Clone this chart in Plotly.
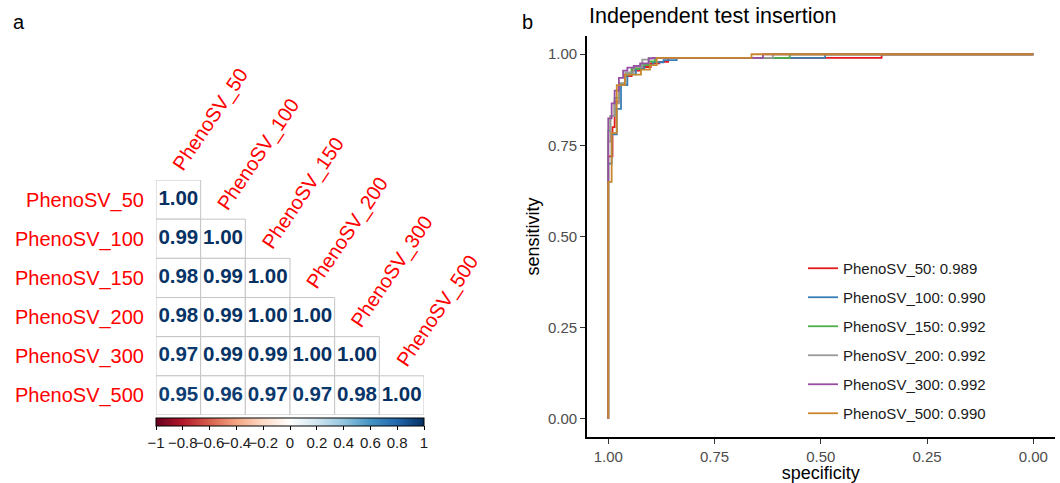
import plotly.graph_objects as go
from plotly.colors import sample_colorscale

# ---------------- data ----------------
models = ["PhenoSV_50", "PhenoSV_100", "PhenoSV_150", "PhenoSV_200", "PhenoSV_300", "PhenoSV_500"]

# lower-triangle correlation rows (row i has i+1 values)
corr_rows = [
    [1.00],
    [0.99, 1.00],
    [0.98, 0.99, 1.00],
    [0.98, 0.99, 1.00, 1.00],
    [0.97, 0.99, 0.99, 1.00, 1.00],
    [0.95, 0.96, 0.97, 0.97, 0.98, 1.00],
]

colorbar_ticks = [-1, -0.8, -0.6, -0.4, -0.2, 0, 0.2, 0.4, 0.6, 0.8, 1]

auc = [0.989, 0.990, 0.992, 0.992, 0.992, 0.990]

# ROC step points (specificity, sensitivity)
spec_50 = [1.0, 0.990, 0.985, 0.975, 0.960, 0.945, 0.925, 0.900, 0.880, 0.859, 0.357, 0.0]
sens_50 = [0.0, 0.72, 0.80, 0.87, 0.915, 0.94, 0.955, 0.965, 0.975, 0.979, 0.990, 1.0]
spec_100 = [1.0, 0.992, 0.980, 0.970, 0.955, 0.935, 0.915, 0.895, 0.870, 0.839, 0.490, 0.0]
sens_100 = [0.0, 0.70, 0.78, 0.85, 0.915, 0.945, 0.96, 0.97, 0.978, 0.984, 0.990, 1.0]
spec_150 = [1.0, 0.995, 0.985, 0.975, 0.960, 0.945, 0.925, 0.905, 0.890, 0.573, 0.0]
sens_150 = [0.0, 0.79, 0.83, 0.88, 0.92, 0.945, 0.96, 0.97, 0.98, 0.990, 1.0]
spec_200 = [1.0, 0.995, 0.985, 0.975, 0.960, 0.940, 0.920, 0.905, 0.613, 0.0]
sens_200 = [0.0, 0.76, 0.83, 0.865, 0.92, 0.95, 0.965, 0.985, 0.990, 1.0]
spec_300 = [1.0, 0.992, 0.985, 0.975, 0.965, 0.955, 0.940, 0.925, 0.905, 0.895, 0.636, 0.0]
sens_300 = [0.0, 0.824, 0.865, 0.90, 0.935, 0.955, 0.963, 0.968, 0.975, 0.988, 0.990, 1.0]
spec_500 = [1.0, 0.992, 0.980, 0.961, 0.923, 0.902, 0.886, 0.663, 0.0]
sens_500 = [0.0, 0.650, 0.784, 0.915, 0.944, 0.958, 0.970, 0.990, 1.0]

roc_spec = [spec_50, spec_100, spec_150, spec_200, spec_300, spec_500]
roc_sens = [sens_50, sens_100, sens_150, sens_200, sens_300, sens_500]
roc_colors = ["#E41A1C", "#377EB8", "#4DAF4A", "#999999", "#984EA3", "#C8872F"]

# corrplot default RdBu palette
rdbu = ["#67001F", "#B2182B", "#D6604D", "#F4A582", "#FDDBC7", "#FFFFFF",
        "#D1E5F0", "#92C5DE", "#4393C3", "#2166AC", "#053061"]
colorscale = [[i / (len(rdbu) - 1), c] for i, c in enumerate(rdbu)]

FONT = "Liberation Sans, Arial, Helvetica, sans-serif"
W, H = 1060, 483

fig = go.Figure()

# ---------------- panel a: correlation matrix ----------------
cx, cy, cv = [], [], []
for r, row in enumerate(corr_rows):
    for c, v in enumerate(row):
        cx.append(c + 1)
        cy.append(r + 1)
        cv.append(v)
text_colors = sample_colorscale(colorscale, [(v + 1) / 2 for v in cv])

for r, row in enumerate(corr_rows):
    for c, _ in enumerate(row):
        fig.add_shape(type="rect", xref="x", yref="y",
                      x0=c + 0.5, x1=c + 1.5, y0=r + 0.5, y1=r + 1.5,
                      line=dict(color="#C4C4C4", width=1), fillcolor="white", layer="below")

fig.add_trace(go.Scatter(
    x=cx, y=cy, mode="markers+text", xaxis="x", yaxis="y",
    text=[f"{v:.2f}" for v in cv],
    textposition="middle center",
    textfont=dict(family=FONT, size=20.5, color=text_colors, weight="bold"),
    marker=dict(color=cv, colorscale=colorscale, cmin=-1, cmax=1, opacity=0, size=1,
                showscale=True,
                colorbar=dict(orientation="h", x=290 / W, xanchor="center",
                              y=1 - 418 / H, yanchor="top",
                              len=268, lenmode="pixels", thickness=8,
                              xpad=0, ypad=0,
                              outlinecolor="black", outlinewidth=1,
                              tickvals=colorbar_ticks,
                              ticktext=[("\u2212" if t < 0 else "") + (f"{abs(t):g}") for t in colorbar_ticks],
                              ticks="outside", ticklen=4, tickcolor="black", tickangle=0,
                              tickfont=dict(family=FONT, size=15, color="#1a1a1a"))),
    showlegend=False, hoverinfo="skip"))

for i, name in enumerate(models):
    fig.add_annotation(xref="x", yref="y", x=i + 1, y=i + 0.5, text=name,
                       textangle=-56, xanchor="left", yanchor="bottom",
                       xshift=-13, yshift=2, showarrow=False,
                       font=dict(family=FONT, size=20, color="#FF0000"))

# ---------------- panel b: ROC ----------------
for i, name in enumerate(models):
    fig.add_trace(go.Scatter(
        x=roc_spec[i], y=roc_sens[i], mode="lines", line_shape="vh",
        line=dict(color=roc_colors[i], width=1.8),
        name=f"{name}: {auc[i]:.3f}", legendgroup=name,
        xaxis="x2", yaxis="y2"))

fig.add_annotation(xref="paper", yref="paper", x=587 / W, y=1 - 16 / H,
                   xanchor="left", yanchor="middle", showarrow=False,
                   text="Independent test insertion",
                   font=dict(family=FONT, size=21.5, color="black"))
fig.add_annotation(xref="paper", yref="paper", x=11 / W, y=1 - 22 / H,
                   xanchor="left", yanchor="middle", showarrow=False, text="a",
                   font=dict(family=FONT, size=20, color="black"))
fig.add_annotation(xref="paper", yref="paper", x=520 / W, y=1 - 22 / H,
                   xanchor="left", yanchor="middle", showarrow=False, text="b",
                   font=dict(family=FONT, size=20, color="black"))

tick_style = dict(ticks="outside", ticklen=5, tickwidth=1, tickcolor="#333333",
                  showline=True, linecolor="black", linewidth=1.6,
                  showgrid=False, zeroline=False,
                  tickfont=dict(family=FONT, size=15, color="#4D4D4D"))

fig.update_layout(
    width=W, height=H,
    margin=dict(l=0, r=0, t=0, b=0),
    paper_bgcolor="white", plot_bgcolor="white",
    font=dict(family=FONT),
    xaxis=dict(domain=[156 / W, 424 / W], range=[0.5, 6.5], visible=False, fixedrange=True),
    yaxis=dict(domain=[1 - 415 / H, 1 - 180 / H], range=[6.5, 0.5],
               tickvals=list(range(1, 7)), ticktext=models,
               ticks="outside", ticklen=7, tickcolor="rgba(0,0,0,0)",
               tickfont=dict(family=FONT, size=20, color="#FF0000"),
               showgrid=False, zeroline=False, showline=False),
    xaxis2=dict(domain=[587 / W, 1054.6 / W], range=[1.05, -0.05], anchor="y2",
                tickvals=[1, 0.75, 0.5, 0.25, 0], ticktext=["1.00", "0.75", "0.50", "0.25", "0.00"],
                title=dict(text="specificity", standoff=4, font=dict(family=FONT, size=18, color="black")),
                **tick_style),
    yaxis2=dict(domain=[1 - 437 / H, 1 - 36 / H], range=[-0.05, 1.05], anchor="x2",
                tickvals=[0, 0.25, 0.5, 0.75, 1], ticktext=["0.00", "0.25", "0.50", "0.75", "1.00"],
                title=dict(text="sensitivity", standoff=4, font=dict(family=FONT, size=18, color="black")),
                **tick_style),
    legend=dict(x=803 / W, y=1 - 252 / H, xanchor="left", yanchor="top",
                font=dict(family=FONT, size=15, color="#1A1A1A"),
                tracegroupgap=6.5, bgcolor="rgba(0,0,0,0)", borderwidth=0),
)

fig.write_html("out.html", config={"displayModeBar": False},
               post_script="document.body.style.margin='0px';document.body.style.overflow='hidden';")
